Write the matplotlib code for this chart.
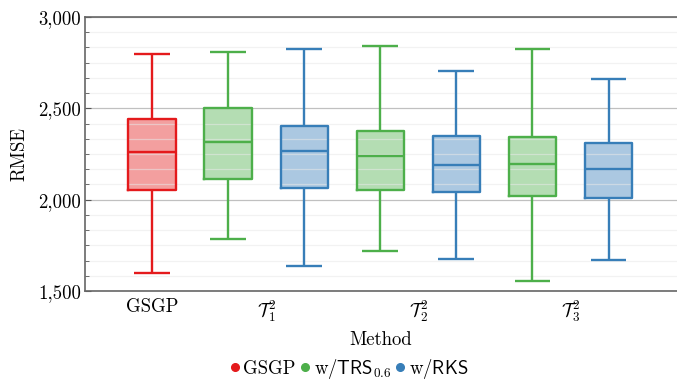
import matplotlib
matplotlib.use("Agg")
import matplotlib.pyplot as plt
from matplotlib.lines import Line2D
from matplotlib.ticker import MultipleLocator, FuncFormatter

plt.rcParams["font.family"] = ["cmr10", "DejaVu Serif"]
plt.rcParams["mathtext.fontset"] = "cm"
plt.rcParams["axes.formatter.use_mathtext"] = True
FS = 13.5
plt.rcParams["font.size"] = FS

# Box statistics (whisker low, Q1, median, Q3, whisker high)
methods = ["GSGP", "T1 TRS", "T1 RKS", "T2 TRS", "T2 RKS", "T3 TRS", "T3 RKS"]
whislo = [1599, 1783, 1639, 1717, 1674, 1555, 1668]
q1 = [2055, 2112, 2064, 2053, 2040, 2022, 2011]
med = [2261, 2314, 2267, 2238, 2192, 2197, 2168]
q3 = [2444, 2500, 2406, 2374, 2347, 2345, 2312]
whishi = [2796, 2807, 2827, 2840, 2707, 2823, 2663]
variant = ["GSGP", "TRS", "RKS", "TRS", "RKS", "TRS", "RKS"]

tick_pos = [0, 1.5, 3.5, 5.5]
tick_labels = ["GSGP", r"$\mathcal{T}_1^2$", r"$\mathcal{T}_2^2$", r"$\mathcal{T}_3^2$"]

palette = {"GSGP": "#e41a1c", "TRS": "#4daf4a", "RKS": "#377eb8"}
legend_labels = {"GSGP": "GSGP", "TRS": r"w/$\mathsf{TRS}_{0.6}$", "RKS": r"w/$\mathsf{RKS}$"}

fig = plt.figure(figsize=(6.77, 3.82), dpi=100)
ax = fig.add_axes([0.1256, 0.2382, 0.8744, 0.7173])

stats = [dict(whislo=a, q1=b, med=c, q3=d, whishi=e, fliers=[], label=m)
         for a, b, c, d, e, m in zip(whislo, q1, med, q3, whishi, methods)]
positions = list(range(len(stats)))

# translucent fills underneath the grid
fills = ax.bxp(stats, positions=positions, widths=0.62, patch_artist=True,
               showfliers=False, zorder=1, manage_ticks=False)
for patch, v in zip(fills["boxes"], variant):
    patch.set_facecolor(palette[v])
    patch.set_alpha(0.42)
    patch.set_edgecolor("none")
for key in ("medians", "whiskers", "caps"):
    for ln in fills[key]:
        ln.set_visible(False)

# outlines on top of the grid
lines = ax.bxp(stats, positions=positions, widths=0.62, capwidths=0.47,
               showfliers=False, zorder=2, manage_ticks=False)
lw = 1.7
for i, v in enumerate(variant):
    c = palette[v]
    lines["boxes"][i].set(color=c, linewidth=lw)
    lines["medians"][i].set(color=c, linewidth=lw)
    for ln in lines["whiskers"][2 * i:2 * i + 2] + lines["caps"][2 * i:2 * i + 2]:
        ln.set(color=c, linewidth=lw, solid_capstyle="butt")

ax.set_axisbelow("line")
ax.set_xlim(-0.88, 6.9)
ax.set_ylim(1500, 3000)
ax.yaxis.set_major_locator(MultipleLocator(500))
ax.yaxis.set_minor_locator(MultipleLocator(500 / 6))
ax.yaxis.set_major_formatter(FuncFormatter(lambda v, p: f"{int(round(v)):,}"))
ax.grid(which="major", axis="y", color="#c0c0c0", linewidth=0.9)
ax.grid(which="minor", axis="y", color="#e8e8e8", linewidth=0.9, alpha=0.55)
ax.tick_params(axis="y", which="both", direction="in", color="#555555", labelsize=FS, pad=3)
ax.tick_params(axis="y", which="major", length=4)
ax.tick_params(axis="y", which="minor", length=3)
ax.set_xticks(tick_pos)
ax.set_xticklabels(tick_labels, fontsize=FS)
ax.tick_params(axis="x", length=0, pad=5)

for s in ("left", "top", "bottom"):
    ax.spines[s].set_color("#666666")
    ax.spines[s].set_linewidth(1.2)
ax.spines["right"].set_visible(False)

ax.set_xlabel("Method", fontsize=FS, labelpad=5)
ax.set_ylabel("RMSE", fontsize=FS, labelpad=7)

handles = [Line2D([], [], marker="o", linestyle="none", markersize=5.5,
                  color=palette[k], label=legend_labels[k]) for k in ("GSGP", "TRS", "RKS")]
fig.legend(handles=handles, loc="center", bbox_to_anchor=(0.515, 0.034), ncol=3,
           frameon=False, handlelength=0.6, handletextpad=0.15, columnspacing=0.2,
           fontsize=FS, borderaxespad=0)

fig.savefig("out.png", dpi=100)
